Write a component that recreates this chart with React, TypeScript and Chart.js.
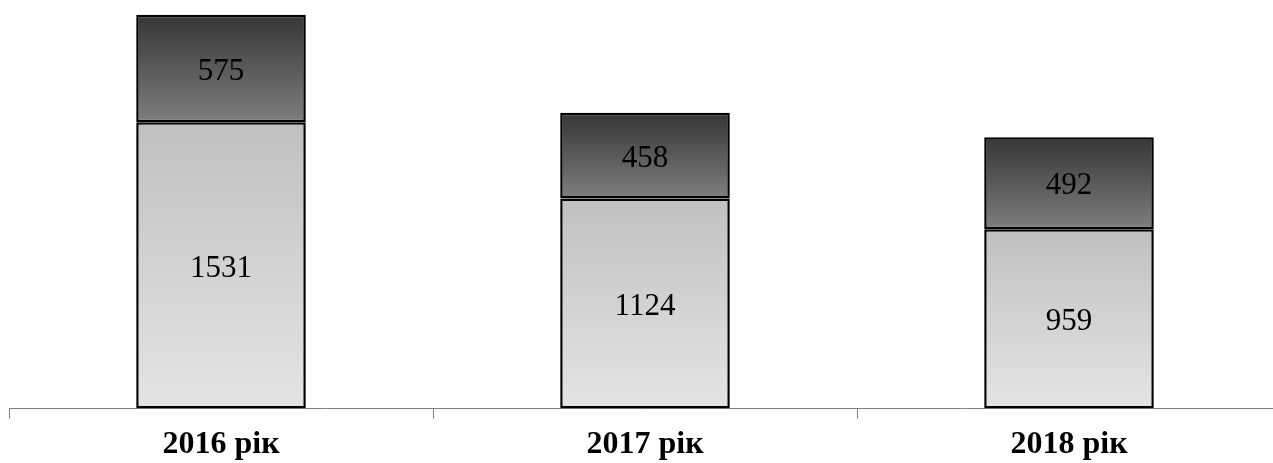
import React, { useEffect, useRef } from "react";
import { Chart, registerables } from "chart.js";

Chart.register(...registerables);

const categories = ["2016 рік", "2017 рік", "2018 рік"];
const lowerValues = [1531, 1124, 959];
const upperValues = [575, 458, 492];

const makeGradient = (top: string, bottom: string, isUpper: boolean) => (ctx: any) => {
  const chart = ctx.chart;
  const y = chart.scales && chart.scales.y;
  if (ctx.type !== "data" || !y) return bottom;
  const i = ctx.dataIndex;
  const start = isUpper ? lowerValues[i] : 0;
  const end = isUpper ? lowerValues[i] + upperValues[i] : lowerValues[i];
  const pTop = y.getPixelForValue(end);
  const pBot = y.getPixelForValue(start);
  if (!isFinite(pTop) || !isFinite(pBot) || pTop === pBot) return bottom;
  const g = chart.ctx.createLinearGradient(0, pTop, 0, pBot);
  g.addColorStop(0, top);
  g.addColorStop(1, bottom);
  return g;
};

const labelPlugin = {
  id: "centerLabels",
  afterDatasetsDraw(chart: any) {
    const c = chart.ctx;
    c.save();
    c.font = "31px 'Liberation Serif'";
    c.fillStyle = "#000";
    c.textAlign = "center";
    c.textBaseline = "middle";
    chart.data.datasets.forEach((ds: any, di: number) => {
      const meta = chart.getDatasetMeta(di);
      meta.data.forEach((el: any, i: number) => {
        const { x, y, base } = el.getProps(["x", "y", "base"], true);
        c.fillText(String(ds.data[i]), x, (y + base) / 2 + 3);
      });
    });
    c.restore();
  },
};

export default function App() {
  const ref = useRef<HTMLCanvasElement | null>(null);
  useEffect(() => {
    if (!ref.current) return;
    const chart = new Chart(ref.current, {
      type: "bar",
      data: {
        labels: categories,
        datasets: [
          {
            label: "lower",
            data: lowerValues,
            backgroundColor: makeGradient("#c0c0c0", "#e4e4e4", false),
            borderColor: "#000",
            borderWidth: 2.5,
            borderSkipped: false,
            barPercentage: 0.4,
            categoryPercentage: 1,
          },
          {
            label: "upper",
            data: upperValues,
            backgroundColor: makeGradient("#363636", "#7e7e7e", true),
            borderColor: "#000",
            borderWidth: 2.5,
            borderSkipped: false,
            barPercentage: 0.4,
            categoryPercentage: 1,
          },
        ],
      },
      options: {
        responsive: false,
        animation: false,
        layout: { padding: { left: 9, right: 1, top: 1, bottom: 0 } },
        plugins: { legend: { display: false }, tooltip: { enabled: false } },
        scales: {
          x: {
            stacked: true,
            offset: true,
            grid: {
              display: true,
              drawOnChartArea: false,
              offset: true,
              tickLength: 10,
              color: "#808080",
            },
            border: { color: "#808080", width: 1 },
            ticks: {
              color: "#000",
              padding: 7,
              font: { family: "'Liberation Serif'", size: 32, weight: "bold" },
            },
          },
          y: {
            stacked: true,
            display: false,
            min: 0,
            max: 2180,
          },
        },
      },
      plugins: [labelPlugin],
    });
    return () => chart.destroy();
  }, []);
  return (
    <div style={{ position: "absolute", left: 0, top: 0, width: 1273, height: 463, overflow: "hidden", background: "#fff" }}>
      <canvas ref={ref} width={1282} height={471} style={{ display: "block" }} />
    </div>
  );
}
